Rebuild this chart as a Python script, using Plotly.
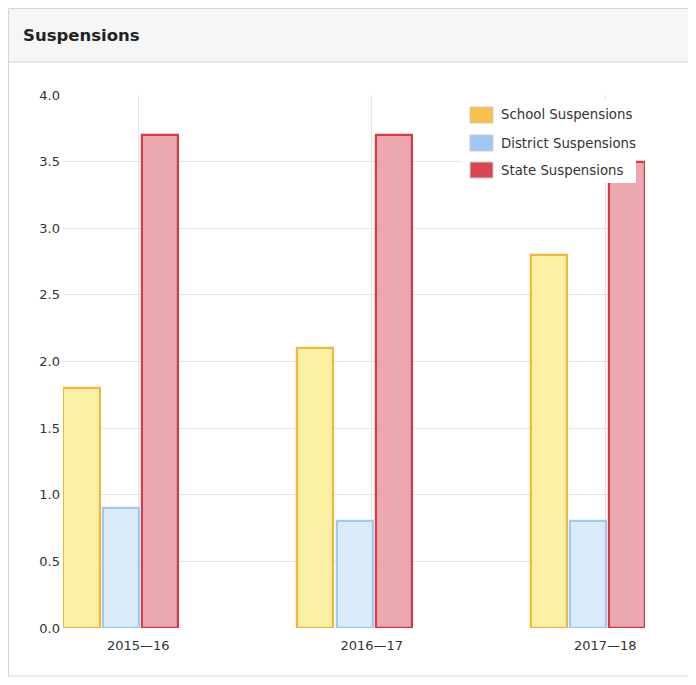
import plotly.graph_objects as go

categories = ["2015—16", "2016—17", "2017—18"]
school = [1.8, 2.1, 2.8]
district = [0.9, 0.8, 0.8]
state = [3.7, 3.7, 3.5]
series_names = ["School Suspensions", "District Suspensions", "State Suspensions"]

OFF = 8  # page body margin
W, H = 696 - OFF, 685 - OFF
# plot area in screen pixels
L, R, T, B = 63, 645, 95, 628


def px(x):
    return (x - L) / (R - L)


def py(y):
    return (B - y) / (B - T)


fills = ["rgba(250,240,160,0.95)", "rgba(216,234,248,0.95)", "rgba(234,163,170,0.95)"]
borders = ["#f3b63c", "#9fc9f0", "#d63a47"]
swatch = ["#f8bf4a", "#9ec8f2", "#d94651"]
offsets = [-0.32, -0.15, 0.017]
bw = 0.155

fig = go.Figure()
for name, vals, f, b, off in zip(series_names, [school, district, state], fills, borders, offsets):
    fig.add_trace(go.Bar(
        x=categories, y=vals, name=name, width=bw, offset=off,
        marker=dict(color=f, line=dict(color=b, width=2.2)),
        showlegend=False,
    ))

shapes = []
annotations = []
# card frame
shapes.append(dict(type="rect", xref="paper", yref="paper", x0=px(8.5), x1=px(720), y0=py(8.5), y1=py(676),
                   line=dict(color="#d6d6d6", width=1), fillcolor="rgba(0,0,0,0)", layer="below"))
shapes.append(dict(type="rect", xref="paper", yref="paper", x0=px(9), x1=px(720), y0=py(9), y1=py(62),
                   line=dict(width=0), fillcolor="#f6f6f6", layer="below"))
shapes.append(dict(type="line", xref="paper", yref="paper", x0=px(8), x1=px(720), y0=py(62), y1=py(62),
                   line=dict(color="#d6d6d6", width=1), layer="below"))
annotations.append(dict(text="<b>Suspensions</b>", xref="paper", yref="paper", x=px(21), y=py(36),
                        xanchor="left", yanchor="middle", showarrow=False,
                        font=dict(family="DejaVu Sans", size=16.5, color="#222222")))
# legend box
shapes.append(dict(type="rect", xref="paper", yref="paper", x0=px(462), x1=px(636), y0=py(100), y1=py(183),
                   line=dict(width=0), fillcolor="white", layer="above"))
rows = [115, 143, 170]
for name, c, yy in zip(series_names, swatch, rows):
    shapes.append(dict(type="rect", xref="paper", yref="paper", x0=px(470), x1=px(493), y0=py(yy - 8), y1=py(yy + 8),
                       line=dict(color="#cccccc", width=1), fillcolor=c, layer="above"))
    annotations.append(dict(text=name, xref="paper", yref="paper", x=px(499), y=py(yy),
                            xanchor="left", yanchor="middle", showarrow=False,
                            font=dict(family="DejaVu Sans", size=13.3, color="#333333")))

fig.update_layout(
    width=W, height=H,
    margin=dict(l=L - OFF, r=W - (R - OFF), t=T - OFF, b=H - (B - OFF)),
    paper_bgcolor="white", plot_bgcolor="white",
    bargap=0, barmode="overlay",
    shapes=shapes, annotations=annotations,
    font=dict(family="DejaVu Sans", size=13, color="#333333"),
    xaxis=dict(type="category", range=[-0.322, 2.17], showgrid=True, gridcolor="#e6e6e6",
               showline=False, zeroline=False, ticks="", ticklabelstandoff=8,
               tickfont=dict(size=13, color="#333333")),
    yaxis=dict(range=[0, 4], dtick=0.5, tickformat=".1f", showgrid=True, gridcolor="#e6e6e6",
               zeroline=False, showline=False, ticks="", ticklabelstandoff=2,
               tickfont=dict(size=13, color="#333333")),
)

fig.write_html("out.html")
